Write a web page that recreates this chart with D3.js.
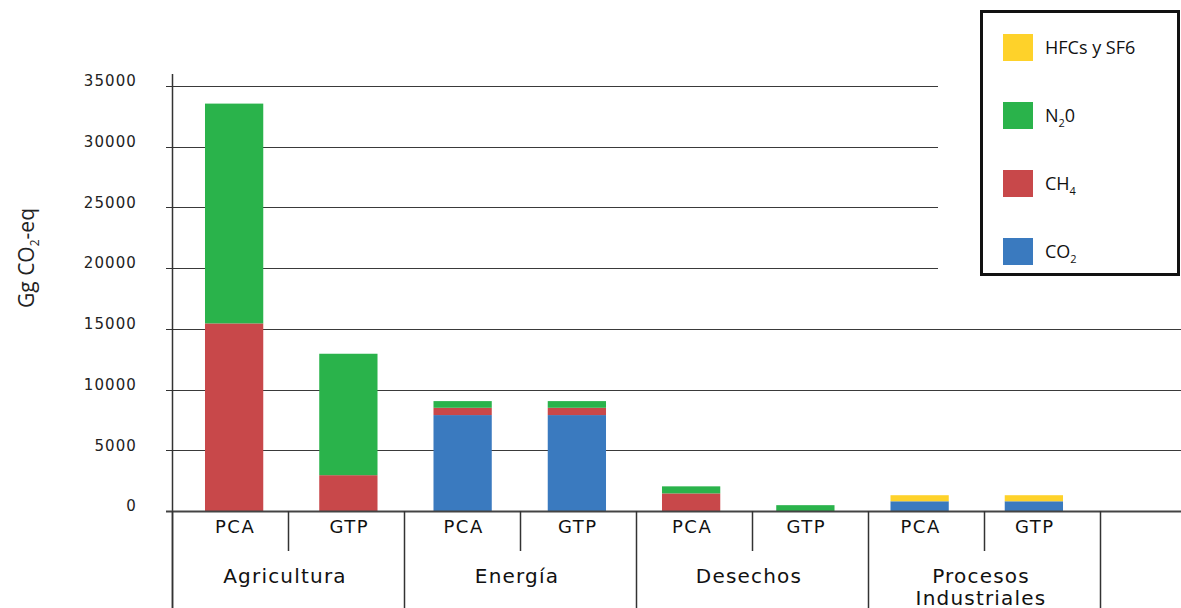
<!DOCTYPE html>
<html>
<head>
<meta charset="utf-8">
<script src="https://cdn.jsdelivr.net/npm/d3@7"></script>
<style>
  body { margin: 0; background: #fff; }
  svg { display: block; font-family: "DejaVu Sans", sans-serif; }
  .legend text { font-family: "Open Sans", sans-serif; }
</style>
</head>
<body>
<div id="chart"></div>
<script>
// Data
const sectors = ["Agricultura", "Energía", "Desechos", "Procesos Industriales"];
const metrics = ["PCA", "GTP"];
const gases = ["CO2", "CH4", "N2O", "HFC"];
const co2 = [0, 0, 7900, 7900, 0, 0, 800, 800];
const ch4 = [15450, 2950, 600, 600, 1450, 0, 0, 0];
const n2o = [18100, 10000, 550, 550, 580, 480, 0, 0];
const hfc = [0, 0, 0, 0, 0, 0, 500, 500];
const yTicks = [0, 5000, 10000, 15000, 20000, 25000, 30000, 35000];

const colors = { CO2: "#3a7abf", CH4: "#c8484a", N2O: "#2ab34b", HFC: "#fed22a" };

const width = 1181, height = 608;
const svg = d3.select("#chart").append("svg")
  .attr("width", width).attr("height", height);

// rows for stacking
const bars = [];
sectors.forEach((s, i) => metrics.forEach((m, j) => {
  const k = i * 2 + j;
  bars.push({ key: s + "|" + m, CO2: co2[k], CH4: ch4[k], N2O: n2o[k], HFC: hfc[k] });
}));

const y = d3.scaleLinear().domain([0, 35000]).range([511, 86]);
const xBar = d3.scaleBand().domain(bars.map(d => d.key)).range([177, 1091])
  .paddingInner(0.49).paddingOuter(0.245);
const xDiv = d3.scaleLinear().domain([0, 8]).range([172, 1100]);

// gridlines
svg.append("g").selectAll("line")
  .data(yTicks.filter(t => t > 0))
  .join("line")
  .attr("x1", 172)
  .attr("x2", d => d >= 20000 ? 938 : width)
  .attr("y1", d => Math.round(y(d)) + 0.5)
  .attr("y2", d => Math.round(y(d)) + 0.5)
  .attr("stroke", "#3a3a3a").attr("stroke-width", 1);

// stacked bars
const stack = d3.stack().keys(gases)(bars);
svg.append("g").selectAll("g")
  .data(stack)
  .join("g")
  .attr("fill", d => colors[d.key])
  .selectAll("rect")
  .data(d => d)
  .join("rect")
  .attr("x", d => xBar(d.data.key))
  .attr("width", xBar.bandwidth())
  .attr("y", d => y(d[1]))
  .attr("height", d => y(d[0]) - y(d[1]));

// y axis
const yAxis = svg.append("g");
yAxis.append("line")
  .attr("x1", 172.5).attr("x2", 172.5).attr("y1", 74).attr("y2", height)
  .attr("stroke", "#333").attr("stroke-width", 1.5);
yAxis.selectAll("line.tick")
  .data(yTicks)
  .join("line").attr("class", "tick")
  .attr("x1", 166).attr("x2", 180)
  .attr("y1", d => Math.round(y(d)) + 0.5)
  .attr("y2", d => Math.round(y(d)) + 0.5)
  .attr("stroke", "#333");
yAxis.selectAll("text")
  .data(yTicks)
  .join("text")
  .attr("x", 137).attr("y", d => y(d) - 5)
  .attr("dy", "0.35em")
  .attr("text-anchor", "end")
  .attr("font-size", 15).attr("letter-spacing", 1.1).attr("fill", "#222")
  .text(d => d);

// baseline
svg.append("line")
  .attr("x1", 166).attr("x2", width).attr("y1", 511.5).attr("y2", 511.5)
  .attr("stroke", "#444").attr("stroke-width", 2);

// y title
const yt = svg.append("text")
  .attr("transform", "translate(34,258) rotate(-90)")
  .attr("text-anchor", "middle")
  .attr("font-family", "Open Sans, sans-serif")
  .attr("font-size", 21).attr("fill", "#222");
yt.append("tspan").text("Gg CO");
yt.append("tspan").attr("font-size", 12).attr("dy", 5).text("2");
yt.append("tspan").attr("dy", -5).text("-eq");

// category dividers
const divs = d3.range(0, 9);
svg.append("g").selectAll("line")
  .data(divs)
  .join("line")
  .attr("x1", d => Math.round(xDiv(d)) + 0.5)
  .attr("x2", d => Math.round(xDiv(d)) + 0.5)
  .attr("y1", 511)
  .attr("y2", d => d % 2 === 0 ? height : 551)
  .attr("stroke", "#333").attr("stroke-width", 1.5);

// metric labels
svg.append("g").selectAll("text")
  .data(bars)
  .join("text")
  .attr("x", d => xBar(d.key) + xBar.bandwidth() / 2 + 1)
  .attr("y", 533)
  .attr("text-anchor", "middle")
  .attr("font-size", 18).attr("letter-spacing", 1.5).attr("fill", "#111")
  .text(d => d.key.split("|")[1]);

// sector labels
svg.append("g").selectAll("text")
  .data(sectors)
  .join("text")
  .attr("x", (d, i) => xDiv(i * 2 + 1) - 3)
  .attr("y", 583)
  .attr("text-anchor", "middle")
  .attr("font-size", 20).attr("letter-spacing", 1.2).attr("fill", "#111")
  .each(function (d) {
    const parts = d.split(" ");
    d3.select(this).selectAll("tspan")
      .data(parts)
      .join("tspan")
      .attr("x", d3.select(this).attr("x"))
      .attr("dy", (p, i) => i === 0 ? 0 : 22)
      .text(p => p);
  });

// legend
const legend = svg.append("g").attr("class", "legend");
legend.append("rect")
  .attr("x", 981.5).attr("y", 11.5).attr("width", 197).attr("height", 263)
  .attr("fill", "#fff").attr("stroke", "#111").attr("stroke-width", 3);
const legendItems = [
  { key: "HFC", label: ["HFCs y SF6"] },
  { key: "N2O", label: ["N", "2", "0"] },
  { key: "CH4", label: ["CH", "4"] },
  { key: "CO2", label: ["CO", "2"] }
];
const li = legend.selectAll("g.item")
  .data(legendItems)
  .join("g").attr("class", "item")
  .attr("transform", (d, i) => `translate(1003,${34 + i * 68})`);
li.append("rect")
  .attr("width", 30).attr("height", 27)
  .attr("fill", d => colors[d.key]);
li.append("text")
  .attr("x", 42).attr("y", 20)
  .attr("font-size", 18).attr("fill", "#111")
  .each(function (d) {
    const t = d3.select(this);
    d.label.forEach((p, i) => {
      if (i === 1) t.append("tspan").attr("font-size", 11).attr("dy", 5).text(p);
      else if (i === 2) t.append("tspan").attr("dy", -5).text(p);
      else t.append("tspan").text(p);
    });
  });
</script>
</body>
</html>
